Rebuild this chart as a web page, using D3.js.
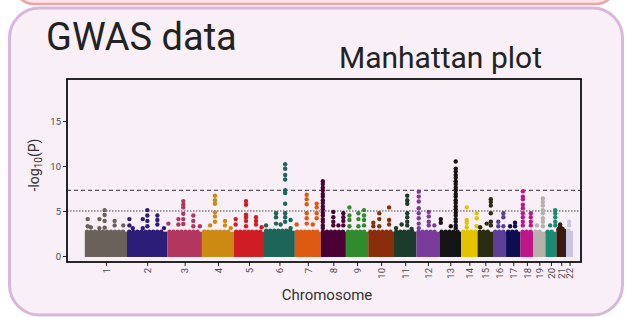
<!DOCTYPE html>
<html>
<head>
<meta charset="utf-8">
<script src="https://cdn.jsdelivr.net/npm/d3@7"></script>
<style>
  body { margin: 0; background: #fff; }
  text { font-family: Roboto, "Noto Sans", sans-serif; }
</style>
</head>
<body>
<div id="wrapper"></div>
<script>
// chromosome names and lengths (Mb) as laid out on the x axis
const chromosomes = ["1","2","3","4","5","6","7","8","9","10","11","12","13","14","15","16","17","18","19","20","21","22"]
const chromLengths = [249, 238, 204, 189, 177, 182, 153, 148, 132, 152, 132, 136, 128, 97, 91, 77, 85, 76, 71, 65, 57, 41]
// top of the dense mass of non-significant SNPs per chromosome (-log10 P)
const baseLevels = [2.7, 2.7, 2.7, 2.7, 2.7, 2.8, 2.7, 2.7, 2.7, 2.7, 2.7, 2.7, 2.7, 2.7, 2.7, 2.7, 2.7, 2.7, 2.7, 2.7, 3.0, 2.8]
const chromColors = ["#6a615b","#2b1d78","#b3365f","#cc8a12","#d01d24","#1c6558","#de5a12","#4a0034","#2f8b2b","#8a2d0a","#1b3b2c","#7b3b9a","#141414","#e4c400","#2b2b12","#5b3f98","#0d0d52","#c0168a","#b5b1ab","#1b8a72","#3b1b10","#c9c5e2"]

// SNPs above the mass: [chromosome, position (Mb), -log10 P values at that position]
const hits = [
  [1, 17, [4.1, 3.3]], [1, 35, [3.2]], [1, 86, [4.1, 3.1]], [1, 117, [5.1, 4.55, 3.9, 3.15]], [1, 176, [3.9, 3.4]], [1, 227, [3.4]],
  [2, 14, [4.1, 3.4]], [2, 34, [3.1]], [2, 93, [4.1, 3.1]], [2, 120, [5.1, 4.5, 3.9, 3.3]], [2, 179, [4.5, 4.0, 3.5]], [2, 218, [3.1]],
  [3, 6, [3.6]], [3, 65, [4.1, 3.5]], [3, 94, [6.1, 5.7, 5.4, 4.7, 4.1, 3.55]], [3, 153, [4.5, 3.9, 3.3]], [3, 192, [3.3]],
  [4, 48, [3.4]], [4, 77, [6.7, 6.2, 5.8, 4.85, 4.4, 3.8]], [4, 136, [3.9, 3.4]], [4, 170, [3.1]],
  [5, 10, [4.1, 3.5]], [5, 71, [6.1, 5.7, 4.6, 4.3, 3.9, 3.3]], [5, 130, [4.3, 3.9, 3.5]], [5, 163, [3.2]],
  [6, 12, [3.4]], [6, 71, [4.75, 4.3, 3.6]], [6, 98, [3.5]], [6, 125, [10.2, 9.7, 9.0, 8.5, 7.3, 7.0, 5.8, 4.75, 4.3, 3.8]], [6, 157, [4.0, 3.1]],
  [7, 11, [3.5]], [7, 70, [6.8, 6.3, 5.75, 4.75, 4.2, 3.6]], [7, 106, [3.5]], [7, 129, [5.8, 5.4, 4.75, 4.2]],
  [8, 12, [8.3, 8.0, 7.6, 7.3, 6.9, 6.6, 6.2, 5.9, 5.5, 5.2, 4.8, 4.5, 4.1, 3.8, 3.4, 3.1]], [8, 74, [4.9, 4.3, 3.8, 3.4]], [8, 104, [3.4]], [8, 133, [4.75, 4.3, 3.9, 3.4]],
  [9, 21, [5.4, 4.5, 4.0, 3.3]], [9, 74, [4.75, 4.1, 3.3]], [9, 107, [5.1, 4.5, 4.0, 3.4]],
  [10, 30, [3.7, 3.3]], [10, 65, [4.75, 4.1, 3.3]], [10, 123, [5.4, 4.0, 3.5]],
  [11, 12, [3.1]], [11, 45, [3.5]], [11, 78, [6.7, 6.2, 5.8, 4.75, 4.3, 3.8, 3.4]], [11, 104, [3.0]],
  [12, 14, [7.15, 6.6, 6.05, 5.3, 4.75, 4.2, 3.6, 3.1]], [12, 73, [4.9, 4.4, 3.8, 3.4]], [12, 106, [3.4]],
  [13, 8, [4.1, 3.7]], [13, 67, [3.3]], [13, 96, [10.5, 9.7, 9.4, 9.0, 8.7, 8.3, 8.0, 7.6, 7.3, 6.9, 6.6, 6.2, 5.9, 5.5, 5.2, 4.8, 4.5, 4.1, 3.8, 3.4, 3.1]],
  [14, 33, [5.4, 4.0, 3.7, 3.2]], [14, 92, [4.75, 4.2, 3.3]],
  [15, 15, [3.2]], [15, 54, [3.6]], [15, 78, [6.3, 6.0, 5.6, 4.75, 3.8, 3.4]],
  [16, 31, [3.8, 3.3]], [16, 61, [4.75, 4.3, 3.3]],
  [17, 24, [3.3]], [17, 53, [3.7, 3.3]],
  [18, 14, [7.2, 6.6, 6.3, 5.7, 5.3, 4.75, 4.3, 3.8, 3.4]], [18, 61, [4.75, 4.3, 3.8, 3.4]],
  [19, 21, [3.4]], [19, 56, [6.4, 6.0, 5.6, 5.1, 4.75, 4.2, 3.8, 3.3]],
  [20, 28, [3.4]], [20, 58, [5.1, 4.75, 4.3, 3.8, 3.4]],
  [21, 22, [3.5, 3.3]],
  [22, 18, [3.8, 3.4]],
]
const yTicks = [0, 5, 10, 15]
const suggestiveLine = 5
const genomeWideLine = 7.3

function drawManhattan() {
  let dimensions = {
    width: 626,
    height: 317,
    margin: { top: 79, right: 45, bottom: 55, left: 67 },
  }
  dimensions.boundedWidth = dimensions.width - dimensions.margin.left - dimensions.margin.right
  dimensions.boundedHeight = dimensions.height - dimensions.margin.top - dimensions.margin.bottom

  const wrapper = d3.select("#wrapper")
    .append("svg")
      .attr("width", dimensions.width)
      .attr("height", dimensions.height)

  // slide panels
  wrapper.append("rect")
      .attr("x", 14).attr("y", -40)
      .attr("width", 602).attr("height", 44)
      .attr("rx", 20)
      .attr("fill", "#fbe5e8")
      .attr("stroke", "#eaa7a8")
      .attr("stroke-width", 2.5)
  wrapper.append("rect")
      .attr("x", 9.5).attr("y", 8)
      .attr("width", 613).attr("height", 307)
      .attr("rx", 30)
      .attr("fill", "#f9eff6")
      .attr("stroke", "#d9b6dc")
      .attr("stroke-width", 3)

  wrapper.append("text")
      .attr("x", 46).attr("y", 50)
      .style("font-size", "38px")
      .attr("fill", "#222")
      .text("GWAS data")
  wrapper.append("text")
      .attr("x", 339).attr("y", 68)
      .style("font-size", "30px")
      .attr("fill", "#222")
      .text("Manhattan plot")

  const bounds = wrapper.append("g")
      .attr("transform", `translate(${dimensions.margin.left}, ${dimensions.margin.top})`)

  // cumulative chromosome offsets
  const offsets = d3.cumsum([0, ...chromLengths])
  const genomeLength = offsets[offsets.length - 1]
  const chromData = chromosomes.map((name, i) => ({
    name,
    start: offsets[i],
    end: offsets[i + 1],
    base: baseLevels[i],
    color: chromColors[i],
  }))

  const xScale = d3.scaleLinear()
    .domain([-105, genomeLength + 47])
    .range([0, dimensions.boundedWidth])
  const yScale = d3.scaleLinear()
    .domain([-0.67, 19.67])
    .range([dimensions.boundedHeight, 0])

  // threshold lines
  bounds.append("line")
      .attr("x1", 0).attr("x2", dimensions.boundedWidth)
      .attr("y1", yScale(suggestiveLine)).attr("y2", yScale(suggestiveLine))
      .attr("stroke", "#444")
      .attr("stroke-width", 1)
      .attr("stroke-dasharray", "1.5,1.5")
  bounds.append("line")
      .attr("x1", 0).attr("x2", dimensions.boundedWidth)
      .attr("y1", yScale(genomeWideLine)).attr("y2", yScale(genomeWideLine))
      .attr("stroke", "#333")
      .attr("stroke-width", 1)
      .attr("stroke-dasharray", "4,3")

  // dense mass of SNPs per chromosome
  const dotRadius = 2.2
  bounds.selectAll(".mass")
    .data(chromData)
    .enter().append("rect")
      .attr("class", "mass")
      .attr("x", d => xScale(d.start))
      .attr("width", d => xScale(d.end) - xScale(d.start))
      .attr("y", d => yScale(d.base))
      .attr("height", d => yScale(0) - yScale(d.base) + 1)
      .attr("fill", d => d.color)
  bounds.selectAll(".mass-top")
    .data(chromData)
    .enter().append("line")
      .attr("class", "mass-top")
      .attr("x1", d => xScale(d.start) + dotRadius)
      .attr("x2", d => xScale(d.end) - dotRadius)
      .attr("y1", d => yScale(d.base))
      .attr("y2", d => yScale(d.base))
      .attr("stroke", d => d.color)
      .attr("stroke-width", dotRadius * 2)
      .attr("stroke-linecap", "round")
      .attr("stroke-dasharray", "0,4")

  // individual SNPs
  const snps = hits.flatMap(([chr, pos, values]) =>
    values.map(v => ({ chr, pos: offsets[chr - 1] + pos, logP: v })))
  bounds.selectAll(".snp")
    .data(snps)
    .enter().append("circle")
      .attr("class", "snp")
      .attr("cx", d => xScale(d.pos))
      .attr("cy", d => yScale(d.logP))
      .attr("r", dotRadius)
      .attr("fill", d => chromColors[d.chr - 1])

  // axes
  const yAxisGenerator = d3.axisLeft(yScale)
    .tickValues(yTicks)
    .tickSize(4)
    .tickPadding(2)
  const yAxis = bounds.append("g")
    .call(yAxisGenerator)
  yAxis.select(".domain").remove()
  yAxis.selectAll("text")
      .style("font-size", "9.5px")
      .attr("fill", "#4d4d4d")
  yAxis.selectAll("line").attr("stroke", "#222")

  const xAxisGenerator = d3.axisBottom(xScale)
    .tickValues(chromData.map(d => (d.start + d.end) / 2))
    .tickFormat((d, i) => chromosomes[i])
    .tickSize(4)
  const xAxis = bounds.append("g")
      .attr("transform", `translate(0, ${dimensions.boundedHeight})`)
    .call(xAxisGenerator)
  xAxis.select(".domain").remove()
  xAxis.selectAll("line").attr("stroke", "#222")
  xAxis.selectAll("text")
      .attr("transform", "rotate(-90)")
      .attr("x", -6)
      .attr("y", 0)
      .attr("dy", "0.35em")
      .attr("text-anchor", "end")
      .style("font-size", "9.5px")
      .attr("fill", "#4d4d4d")

  // frame
  bounds.append("rect")
      .attr("width", dimensions.boundedWidth)
      .attr("height", dimensions.boundedHeight)
      .attr("fill", "none")
      .attr("stroke", "#111")
      .attr("stroke-width", 1.8)

  // labels
  bounds.append("text")
      .attr("x", dimensions.boundedWidth / 2 + 3)
      .attr("y", dimensions.boundedHeight + 38)
      .attr("text-anchor", "middle")
      .style("font-size", "15px")
      .attr("fill", "#333")
      .text("Chromosome")

  const yLabel = wrapper.append("text")
      .attr("transform", "translate(39, 165) rotate(-90)")
      .attr("text-anchor", "middle")
      .style("font-size", "14px")
      .attr("fill", "#333")
  yLabel.append("tspan").text("-log")
  yLabel.append("tspan").attr("dy", 3).style("font-size", "10px").text("10")
  yLabel.append("tspan").attr("dy", -3).text("(P)")
}
drawManhattan()
</script>
</body>
</html>
